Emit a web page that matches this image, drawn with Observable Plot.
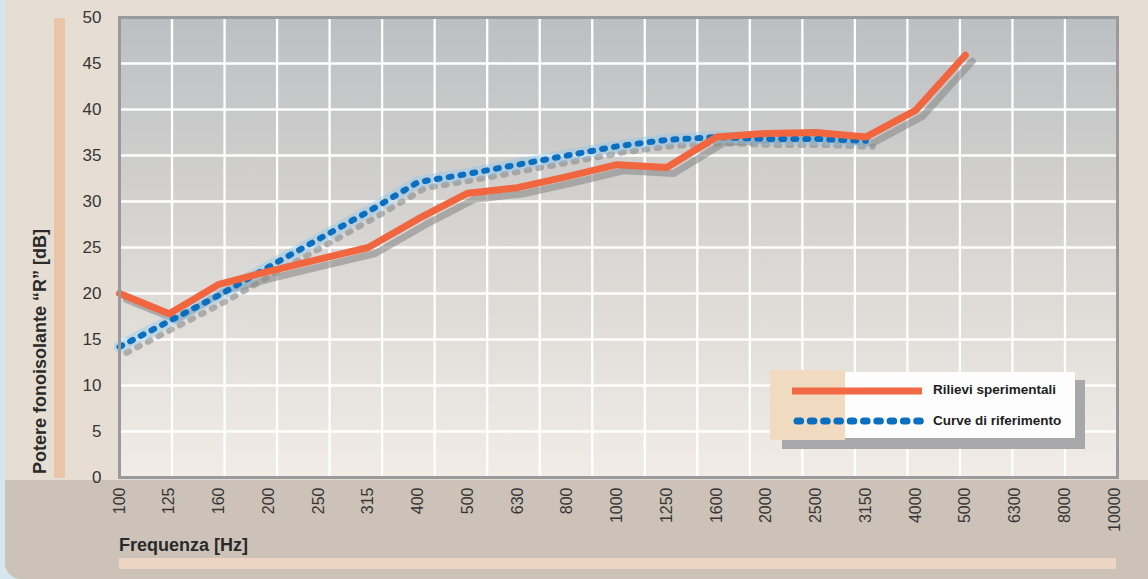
<!DOCTYPE html>
<html><head><meta charset="utf-8">
<script src="https://cdn.jsdelivr.net/npm/d3@7"></script>
<script src="https://cdn.jsdelivr.net/npm/@observablehq/plot@0.6"></script>
<style>
html,body{margin:0;padding:0;background:#d6e6ee;}
#wrap{position:relative;width:1148px;height:579px;overflow:hidden;background:#d6e6ee;font-family:"Liberation Sans",Arial,sans-serif;}
.abs{position:absolute;}
#upper{left:5px;top:0;width:1143px;height:480px;background:#e7ded3;}
#band{left:5px;top:480px;width:1143px;height:99px;background:#cdc2b7;border-bottom-left-radius:16px;}
#vbar{left:54px;top:18px;width:11px;height:460px;background:#e9c4a7;}
#hbar{left:119px;top:558px;width:997px;height:11px;background:#edd5c3;}
#ytitle{left:30px;top:474px;transform-origin:0 0;transform:rotate(-90deg);white-space:nowrap;font-weight:bold;font-size:18px;line-height:normal;color:#2a2a2a;}
#xtitle{left:119px;top:535px;white-space:nowrap;font-weight:bold;font-size:18px;line-height:normal;color:#2a2a2a;}
#chart{left:0;top:0;}
#chart svg g[aria-label="y-axis tick label"] text{font-size:17px;}
#chart svg g[aria-label="x-axis tick label"] text{font-size:16px;}
.legtxt{position:absolute;left:933px;font-weight:bold;font-size:13.5px;line-height:16px;color:#1e1e1e;white-space:nowrap;}
</style>
</head><body>
<div id="wrap">
  <div id="upper" class="abs"></div>
  <div id="band" class="abs"></div>
  <div id="vbar" class="abs"></div>
  <div id="hbar" class="abs"></div>
  <div id="ytitle" class="abs">Potere fonoisolante “R” [dB]</div>
  <div id="xtitle" class="abs">Frequenza [Hz]</div>
  <div id="chart" class="abs"></div>
  <div id="legend">
    <div class="abs" style="left:782px;top:380px;width:303px;height:69px;background:#a8a8aa"></div>
    <div class="abs" style="left:845px;top:372px;width:230px;height:66px;background:#fdfdfd"></div>
    <div class="abs" style="left:770px;top:370px;width:75px;height:70px;background:#f1dbc0"></div>
    <svg class="abs" style="left:770px;top:370px" width="170" height="70">
      <line x1="22" x2="152" y1="21" y2="21" stroke="#f26a45" stroke-width="7"/>
      <line x1="27" x2="152" y1="51" y2="51" stroke="#0a6fc0" stroke-width="7" stroke-linecap="round" stroke-dasharray="3.6 9.7"/>
    </svg>
    <div class="legtxt" style="top:382px">Rilievi sperimentali</div>
    <div class="legtxt" style="top:413px">Curve di riferimento</div>
  </div>
</div>
<script>
// Frequency band labels (Hz)
const freqLabels = ["100","125","160","200","250","315","400","500","630","800","1000","1250","1600","2000","2500","3150","4000","5000","6300","8000","10000"];
// Rilievi sperimentali (dB), bands 100 … 5000 Hz
const rilievi = [20.0, 17.8, 21.0, 22.4, 23.7, 25.0, 28.1, 30.9, 31.5, 32.7, 34.0, 33.7, 37.0, 37.4, 37.5, 37.0, 39.9, 45.9];
// Curva di riferimento (dB), bands 100 … 3150 Hz
const curva = [14.2, 17.0, 19.8, 22.9, 25.9, 28.9, 32.1, 33.0, 34.0, 35.0, 36.0, 36.7, 37.0, 36.8, 36.8, 36.6];
// Y ticks
const yTicks = [0, 5, 10, 15, 20, 25, 30, 35, 40, 45, 50];

const rilData = rilievi.map((v, i) => ({i, v}));
const curData = curva.map((v, i) => ({i, v}));

const xMax = 20.06;
const nCols = 19;
const gridXs = d3.range(1, nCols).map(k => k * xMax / nCols);
const gridYs = yTicks.slice(1, -1);

const chart = Plot.plot({
  width: 1148, height: 579,
  marginLeft: 119, marginRight: 31, marginTop: 17, marginBottom: 102,
  style: {background: "transparent", overflow: "visible", fontFamily: "'Liberation Sans Narrow','Liberation Sans',Arial,sans-serif", color: "#363636"},
  x: {domain: [0, xMax], axis: null},
  y: {domain: [0, 50], axis: null},
  marks: [
    Plot.frame({fill: "url(#plotGrad)", stroke: "none"}),
    Plot.ruleY(gridYs, {stroke: "#ffffff", strokeWidth: 2.3}),
    Plot.ruleX(gridXs, {stroke: "#ffffff", strokeWidth: 2.3}),
    Plot.line(curData, {x: "i", y: "v", dx: 7, dy: 6, stroke: "#8a8a8a", strokeOpacity: 0.6, strokeWidth: 6, strokeDasharray: "3 9", strokeLinecap: "round"}),
    Plot.line(rilData, {x: "i", y: "v", dx: 7, dy: 6, stroke: "#8a8a8a", strokeOpacity: 0.6, strokeWidth: 7}),
    Plot.line(curData, {x: "i", y: "v", stroke: "#86c6ee", strokeOpacity: 0.4, strokeWidth: 12}),
    Plot.line(curData, {x: "i", y: "v", stroke: "#0a6fc0", strokeWidth: 6, strokeDasharray: "3 9", strokeLinecap: "round"}),
    Plot.line(rilData, {x: "i", y: "v", stroke: "#f1653f", strokeWidth: 7}),
    Plot.axisY(yTicks, {label: null, tickSize: 0, tickPadding: 18, fontSize: 17, fill: "#363636"}),
    Plot.axisX(d3.range(freqLabels.length), {label: null, tickSize: 0, tickPadding: 10, tickRotate: -90, tickFormat: i => freqLabels[i], fontSize: 16, fill: "#363636"}),
    Plot.frame({stroke: "#999a9e", strokeWidth: 3})
  ]
});

const svg = d3.select(chart);
const defs = svg.insert("defs", ":first-child");
const g = defs.append("linearGradient").attr("id", "plotGrad").attr("x1", 0).attr("y1", 0).attr("x2", 0).attr("y2", 1);
g.append("stop").attr("offset", "0%").attr("stop-color", "#bcbfc2");
g.append("stop").attr("offset", "45%").attr("stop-color", "#d6d4d1");
g.append("stop").attr("offset", "100%").attr("stop-color", "#f1ece6");

document.getElementById("chart").appendChild(chart);
</script>
</body></html>
